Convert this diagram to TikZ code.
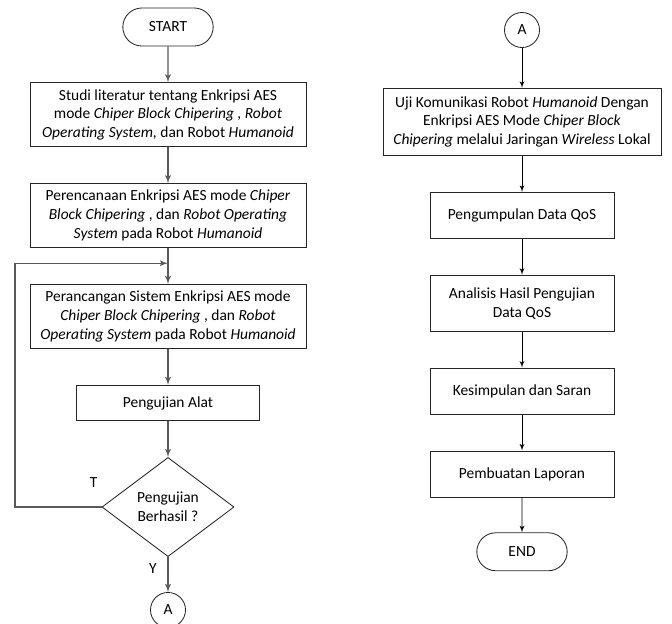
\documentclass[tikz,border=0pt]{standalone}
\usepackage{fontspec}
\setmainfont{Carlito}
\usetikzlibrary{arrows,positioning,calc,shapes.geometric,shapes.misc}

\begin{document}
\begin{tikzpicture}[->,>=latex',node distance=0.9cm,thick,
    font=\fontsize{11}{13.4}\selectfont,
    base/.style={draw=black!85,semithick,align=center,inner sep=2pt},
    term node/.style={base,rounded rectangle,minimum width=2.4cm,minimum height=0.95cm},
    big box/.style={base,rectangle,minimum width=6.9cm,minimum height=1.6cm},
    small box/.style={base,rectangle,minimum width=4.6cm,minimum height=1.15cm},
    check node/.style={base,diamond,minimum width=3.3cm,minimum height=2.48cm,aspect=1.33},
    conn node/.style={base,circle,minimum size=0.875cm},
    left line/.style={draw=black!65,line width=1pt},
    right line/.style={draw=black,line width=0.6pt}]
  \useasboundingbox (0,0) rectangle (16.8,-15.575);
  % kolom kiri
  \node[term node] (start) at (4.2,-0.675) {START};
  \node[big box] (studi) [below=of start] {Studi literatur tentang Enkripsi AES\\ mode \textit{Chiper Block Chipering , Robot}\\ \textit{Operating System,} dan Robot \textit{Humanoid}};
  \node[big box] (rencana) [below=of studi] {Perencanaan Enkripsi AES mode \textit{Chiper}\\ \textit{Block Chipering} , dan \textit{Robot Operating}\\ \textit{System} pada Robot \textit{Humanoid}};
  \node[big box] (rancang) [below=of rencana] {Perancangan Sistem Enkripsi AES mode\\ \textit{Chiper Block Chipering} , dan \textit{Robot}\\ \textit{Operating System} pada Robot \textit{Humanoid}};
  \node[base,rectangle,minimum width=4.58cm,minimum height=0.88cm] (alat) [below=of rancang] {Pengujian Alat};
  \node[check node] (cek) [below=of alat] {Pengujian\\ Berhasil ?};
  \node[conn node] (a1) [below=0.875cm of cek] {A};
  \coordinate (gabung) at ($(rencana.south)!0.42!(rancang.north)$);
  \coordinate (tepi) at (0.375,0);
  \draw[left line] (start) -- (studi);
  \draw[left line] (studi) -- (rencana);
  \draw[left line] (rencana) -- (rancang);
  \draw[left line] (rancang) -- (alat);
  \draw[left line] (alat) -- (cek);
  \draw[left line] (cek) -- (a1);
  \draw[left line] (cek.west) -| (tepi |- gabung) -- (gabung);
  \node[draw=none] (lblT) at ($(cek.west)+(-0.2,0.6)$) {T};
  \node[draw=none] (lblY) at ($(cek.south)+(-0.375,-0.275)$) {Y};
  % kolom kanan
  \node[conn node] (a2) at (13.05,-0.75) {A};
  \node[big box,minimum width=6.95cm,minimum height=1.68cm] (uji) [below=1cm of a2] {Uji Komunikasi Robot \textit{Humanoid} Dengan\\ Enkripsi AES Mode \textit{Chiper Block}\\ \textit{Chipering} melalui Jaringan \textit{Wireless} Lokal};
  \node[small box] (qos) [below=of uji] {Pengumpulan Data QoS};
  \node[small box,minimum height=1.4cm] (analisis) [below=of qos] {Analisis Hasil Pengujian\\ Data QoS};
  \node[small box] (saran) [below=of analisis] {Kesimpulan dan Saran};
  \node[small box] (lapor) [below=of saran] {Pembuatan Laporan};
  \node[term node] (end) [below=0.875cm of lapor] {END};
  \draw[right line] (a2) -- (uji);
  \draw[right line] (uji) -- (qos);
  \draw[right line] (qos) -- (analisis);
  \draw[right line] (analisis) -- (saran);
  \draw[right line] (saran) -- (lapor);
  \draw[right line] (lapor) -- (end);
\end{tikzpicture}
\end{document}
